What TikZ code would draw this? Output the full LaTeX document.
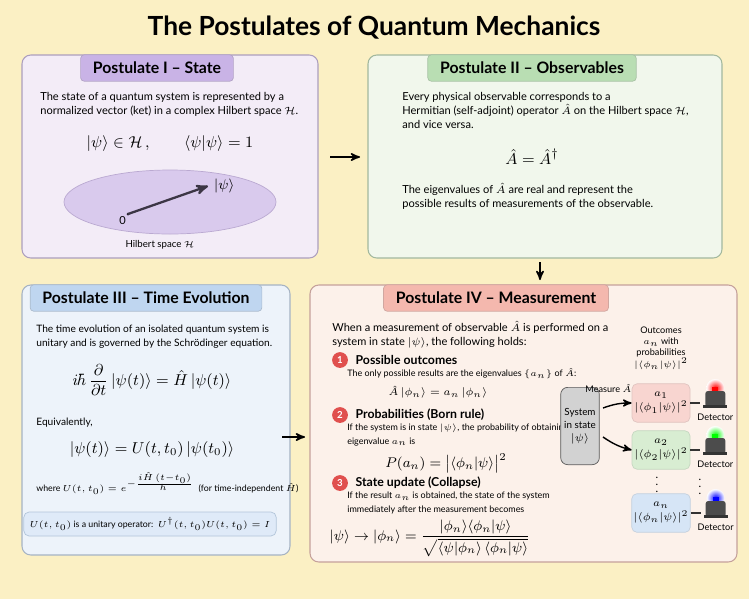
\documentclass[tikz,border=0pt]{standalone}
\usepackage{amsmath}
\usepackage{amssymb}
\usepackage{fontspec}
\setmainfont{Lato}
\usetikzlibrary{arrows,positioning}
\definecolor{bgyellow}{HTML}{FBF0C4}
\definecolor{purplefill}{HTML}{F3ECF7}
\definecolor{purplehead}{HTML}{C9B3E6}
\definecolor{greenfill}{HTML}{F1F7EC}
\definecolor{greenhead}{HTML}{B9DEB3}
\definecolor{bluefill}{HTML}{EDF3FA}
\definecolor{bluehead}{HTML}{BFD6F0}
\definecolor{pinkfill}{HTML}{FCF1EA}
\definecolor{pinkhead}{HTML}{F4B8AE}
\definecolor{numred}{HTML}{E0504E}
\definecolor{outred}{HTML}{F8D5D0}
\definecolor{outgreen}{HTML}{D8EDD2}
\definecolor{outblue}{HTML}{D6E5F6}
\tikzset{font={\fontsize{6.3pt}{8pt}\selectfont}}
\begin{document}
\begin{tikzpicture}[x=0.02cm,y=-0.02cm,>=stealth',
    panel/.style={draw=#1!60!gray,rounded corners=5pt,line width=0.6pt},
    head/.style={fill=#1,draw=#1!70!gray,rounded corners=2pt,font=\fontsize{9pt}{10pt}\selectfont\bfseries,minimum height=15pt,inner xsep=7pt},
    txt/.style={align=left,anchor=north west,inner sep=0pt},
    numdot/.style={circle,fill=numred,text=white,font=\fontsize{5.5pt}{6pt}\selectfont\bfseries,inner sep=0pt,minimum size=9pt},
    steptitle/.style={anchor=west,inner sep=0pt,font=\fontsize{7pt}{8pt}\selectfont\bfseries},
    small/.style={txt,font=\fontsize{5.1pt}{7.5pt}\selectfont},
    outbox/.style={rounded corners=3pt,draw=#1!80!gray,fill=#1,minimum width=33pt,minimum height=22pt,inner sep=1pt,align=center,font=\fontsize{5.8pt}{8pt}\selectfont},
    tiny/.style={font=\fontsize{5.2pt}{6.5pt}\selectfont},
    link/.style={->,line width=0.9pt}]
  \fill[bgyellow] (0,0) rectangle (749,599);
  \useasboundingbox (0,0) rectangle (749,599);
  \node (title) at (374,28) {\fontsize{15pt}{17pt}\selectfont\bfseries The Postulates of Quantum Mechanics};

  % Postulate I
  \draw[panel=purplehead,fill=purplefill] (22,55) rectangle (318,258);
  \node[head=purplehead] (h1) at (157,68) {Postulate I -- State};
  \node[txt] (t1) at (40,92) {The state of a quantum system is represented by a\\normalized vector (ket) in a complex Hilbert space $\mathcal{H}$.};
  \node (e1) at (170,144) {\fontsize{9pt}{10pt}\selectfont $|\psi\rangle\in\mathcal{H}\,,\qquad\langle\psi|\psi\rangle=1$};
  \draw[draw=purplehead!80!gray,fill=purplehead!70] (170,202) ellipse (106 and 32);
  \coordinate (o) at (128,214);
  \coordinate (k) at (208,186);
  \node[anchor=north east,inner sep=1pt] at (o) {0};
  \fill[purplehead!20!black] (o) circle (1.5);
  \draw[->,line width=1.3pt,draw=purplehead!30!black] (o) -- (k);
  \node[right=0pt of k] (ket) {\fontsize{8pt}{9pt}\selectfont $|\psi\rangle$};
  \node (hs) at (160,245) {\fontsize{5.5pt}{6pt}\selectfont Hilbert space $\mathcal{H}$};

  % Postulate II
  \draw[panel=greenhead,fill=greenfill] (368,55) rectangle (722,258);
  \node[head=greenhead] (h2) at (532,68) {Postulate II -- Observables};
  \node[txt] (t2) at (402,92) {Every physical observable corresponds to a\\Hermitian (self-adjoint) operator $\hat{A}$ on the Hilbert space $\mathcal{H}$,\\and vice versa.};
  \node (e2) at (532,157) {\fontsize{9.5pt}{10pt}\selectfont $\hat{A}=\hat{A}^{\dagger}$};
  \node[txt] (t2b) at (402,183) {The eigenvalues of $\hat{A}$ are real and represent the\\possible results of measurements of the observable.};

  % Postulate III
  \draw[panel=bluehead,fill=bluefill] (22,285) rectangle (290,555);
  \node[head=bluehead] (h3) at (146,298) {Postulate III -- Time Evolution};
  \node[txt,font=\fontsize{5.8pt}{7.5pt}\selectfont] (t3) at (36,325) {The time evolution of an isolated quantum system is\\unitary and is governed by the Schrödinger equation.};
  \node (e3) at (152,380) {\fontsize{9.5pt}{10pt}\selectfont $i\hbar\,\dfrac{\partial}{\partial t}\,|\psi(t)\rangle=\hat{H}\,|\psi(t)\rangle$};
  \node[txt,font=\fontsize{5.8pt}{7pt}\selectfont] (t3b) at (36,418) {Equivalently,};
  \node (e3b) at (152,450) {\fontsize{9pt}{10pt}\selectfont $|\psi(t)\rangle=U(t,t_0)\,|\psi(t_0)\rangle$};
  \node[txt,font=\fontsize{5pt}{7pt}\selectfont] (t3c) at (36,472) {where $U(t,t_0)=e^{-\frac{i\hat{H}\,(t-t_0)}{\hbar}}$\ \ (for time-independent $\hat{H}$)};
  \node[draw=bluehead!80!gray,fill=bluehead!50,rounded corners=3pt,minimum width=134pt,minimum height=13pt,font=\fontsize{5pt}{7pt}\selectfont] (unit) at (150,524) {$U(t,t_0)$ is a unitary operator:\ \ $U^{\dagger}(t,t_0)U(t,t_0)=I$};

  % Postulate IV
  \draw[panel=pinkhead,fill=pinkfill] (310,285) rectangle (737,562);
  \node[head=pinkhead] (h4) at (496,298) {Postulate IV -- Measurement};
  \node[txt] (t4) at (332,321) {When a measurement of observable $\hat{A}$ is performed on a\\system in state $|\psi\rangle$, the following holds:};
  \node[numdot] (s1) at (340,360) {1};
  \node[steptitle,right=4pt of s1] (s1t) {Possible outcomes};
  \node[small] (s1b) at (347,368) {The only possible results are the eigenvalues $\{a_n\}$ of $\hat{A}$:};
  \node (e4a) at (438,392) {$\hat{A}\,|\phi_n\rangle=a_n\,|\phi_n\rangle$};
  \node[numdot] (s2) at (340,415) {2};
  \node[steptitle,right=4pt of s2] (s2t) {Probabilities (Born rule)};
  \node[small] (s2b) at (347,424) {If the system is in state $|\psi\rangle$, the probability of obtaining\\eigenvalue $a_n$ is};
  \node (e4b) at (446,463) {\fontsize{8pt}{9pt}\selectfont $P(a_n)=\bigl|\langle\phi_n|\psi\rangle\bigr|^2$};
  \node[numdot] (s3) at (340,483) {3};
  \node[steptitle,right=4pt of s3] (s3t) {State update (Collapse)};
  \node[small] (s3b) at (347,492) {If the result $a_n$ is obtained, the state of the system\\immediately after the measurement becomes};
  \node (e4c) at (430,538) {\fontsize{8pt}{9pt}\selectfont $|\psi\rangle\rightarrow|\phi_n\rangle=\dfrac{|\phi_n\rangle\langle\phi_n|\psi\rangle}{\sqrt{\langle\psi|\phi_n\rangle\,\langle\phi_n|\psi\rangle}}$};

  % measurement sketch
  \node[rounded corners=4pt,draw=gray!70!black,fill=gray!35,minimum width=22pt,minimum height=44pt,inner sep=1pt,align=center,font=\fontsize{5.6pt}{7.5pt}\selectfont] (sys) at (580,426) {System\\in state\\$|\psi\rangle$};
  \node[align=center,tiny] (oc) at (661,348) {Outcomes\\$a_n$ with\\probabilities\\$|\langle\phi_n|\psi\rangle|^2$};
  \node[outbox=outred] (o1) at (661,403) {$a_1$\\$|\langle\phi_1|\psi\rangle|^2$};
  \node[outbox=outgreen] (o2) at (661,450) {$a_2$\\$|\langle\phi_2|\psi\rangle|^2$};
  \node[outbox=outblue] (o3) at (661,513) {$a_n$\\$|\langle\phi_n|\psi\rangle|^2$};
  \node (dots) at (657,480) {$\vdots$};
  \node (dots2) at (700,482) {$\vdots$};
  \coordinate (m1) at (603,408);
  \coordinate (m2) at (603,437);
  \draw[->,thick] (m1) to[bend left=10] (o1.west);
  \node[tiny,anchor=south east,inner sep=1pt] (ml) at ([shift={(2,-8)}]o1.west) {Measure $\hat{A}$};
  \draw[->,thick] (m2) to[bend right=10] (o2.west);
  \foreach \b/\c in {o1/red,o2/green,o3/blue}{
    \coordinate (d) at ([shift={(10,0)}]\b.east);
    \draw[thick,gray!40!black] (\b.east) -- (d);
    \shade[inner color=\c,outer color=\c!0] ([shift={(15,-15)}]d) circle (9);
    \fill[gray!60!black,rounded corners=1.5pt] ([shift={(5,4)}]d) rectangle ([shift={(25,-12)}]d);
    \fill[gray!40!black] ([shift={(3,5)}]d) rectangle ([shift={(27,2)}]d);
    \fill[\c] ([shift={(12,-12)}]d) rectangle ([shift={(18,-16)}]d);
    \node[tiny] at ([shift={(15,14)}]d) {Detector};
  }

  % flow between postulates
  \coordinate (a1) at (330,157);
  \coordinate (a2) at (360,157);
  \coordinate (b1) at (540,262);
  \coordinate (b2) at (540,280);
  \coordinate (c1) at (282,437);
  \coordinate (c2) at (305,437);
  \draw[link] (a1) -- (a2);
  \draw[link] (b1) -- (b2);
  \draw[link] (c1) -- (c2);
\end{tikzpicture}
\end{document}
